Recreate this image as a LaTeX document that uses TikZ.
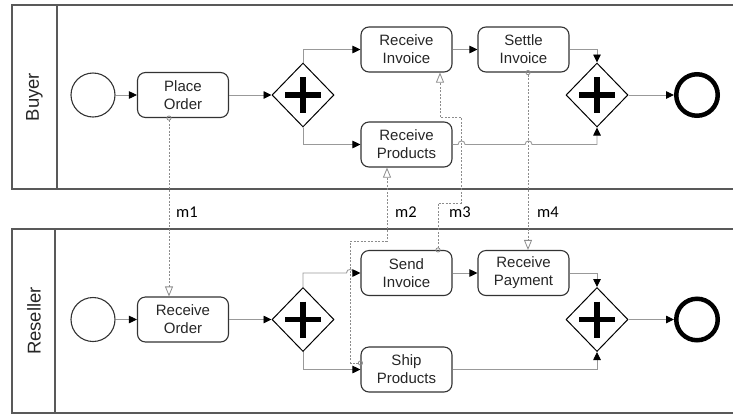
\documentclass[tikz,border=0pt]{standalone}
\usepackage{fontspec}
\setmainfont{Liberation Sans}
\newfontfamily\msgfont{Carlito}
\usetikzlibrary{shapes.geometric,arrows.meta,calc}

\begin{document}
\begin{tikzpicture}[x=1pt,y=-1pt,
  pool/.style={draw=black!65,line width=1.8pt},
  task/.style={draw=black!80,line width=1.1pt,rounded corners=8pt,
    minimum width=91pt,minimum height=45pt,inner sep=0pt,align=center,
    font=\fontsize{15}{18}\selectfont,text=black!85},
  startev/.style={circle,draw=black!80,line width=1.1pt,minimum size=44pt,inner sep=0pt},
  endev/.style={circle,draw=black,line width=4.5pt,minimum size=41.5pt,inner sep=0pt},
  gate/.style={diamond,draw=black,line width=1pt,minimum width=62pt,minimum height=64pt,
    inner sep=0pt,
    path picture={
      \draw[line width=5.5pt,black]
        ($(path picture bounding box.center)+(-18,0)$) -- ++(36,0)
        ($(path picture bounding box.center)+(0,-18)$) -- ++(0,36);}},
  seq/.style={draw=black!40,line width=0.9pt,
    -{Triangle[length=8pt,width=7.5pt,color=black]}},
  msg/.style={draw=black!45,line width=0.8pt,dash pattern=on 2pt off 1.5pt,
    {Circle[open,length=5pt,width=5pt]}-{Triangle[open,length=10pt,width=8pt]}},
  lanelabel/.style={rotate=90,font=\fontsize{18.5}{20}\selectfont,text=black!85},
  msglabel/.style={font=\msgfont\fontsize{16.5}{18}\selectfont}
]
\useasboundingbox (0,0) rectangle (733,416);

% pools and their lane headers
\draw[pool] (12,5) rectangle (745,189);
\draw[pool] (57,5) -- (57,189);
\draw[pool] (12,229) rectangle (745,413);
\draw[pool] (55,229) -- (55,413);
\node[lanelabel] (lbuyer) at (34.5,97) {Buyer};
\node[lanelabel] (lreseller) at (34,321) {Reseller};

% Buyer process
\node[startev] (bs) at (93,95) {};
\node[task] (po) at (183,95) {Place\\Order};
\node[gate] (bg1) at (303,95) {};
\node[task] (ri) at (406.5,49.5) {Receive\\Invoice};
\node[task] (rp) at (406.5,144.5) {Receive\\Products};
\node[task] (si) at (523.5,49.5) {Settle\\Invoice};
\node[gate] (bg2) at (597,95) {};
\node[endev] (be) at (697,95) {};

% Reseller process
\node[startev] (rs) at (93,319.5) {};
\node[task] (ro) at (183,319.5) {Receive\\Order};
\node[gate] (rg1) at (303,319.5) {};
\node[task] (sn) at (406.5,273) {Send\\Invoice};
\node[task] (sp) at (406.5,369.5) {Ship\\Products};
\node[task] (rpay) at (523.5,273) {Receive\\Payment};
\node[gate] (rg2) at (597,319.5) {};
\node[endev] (re) at (697,319.5) {};

% sequence flows, Buyer
\draw[seq] (bs) -- (po);
\draw[seq] (po) -- (bg1);
\draw[seq] (bg1.north) |- (ri);
\draw[seq] (bg1.south) |- (rp);
\draw[seq] (ri) -- (si);
\draw[seq] (si) -| (bg2.north);
\draw[seq] (rp.east) -- ($(rp.east)+(5.5,0)$)
  .. controls +(0,-4.7) and +(0,-4.7) .. ($(rp.east)+(12.5,0)$)
  -- ($(rp.east)+(72.5,0)$)
  .. controls +(0,-4.7) and +(0,-4.7) .. ($(rp.east)+(79.5,0)$)
  -| (bg2.south);
\draw[seq] (bg2) -- (be);

% sequence flows, Reseller
\draw[seq] (rs) -- (ro);
\draw[seq] (ro) -- (rg1);
\draw[seq] (rg1.north) |- ($(sn.west)+(-14,0)$)
  .. controls +(0,-4.7) and +(0,-4.7) .. ($(sn.west)+(-7,0)$) -- (sn.west);
\draw[seq] (rg1.south) |- (sp);
\draw[seq] (sn) -- (rpay);
\draw[seq] (rpay) -| (rg2.north);
\draw[seq] (sp) -| (rg2.south);
\draw[seq] (rg2) -- (re);

% message flows
\draw[msg] ([xshift=-14pt,yshift=2.5pt]po.south) -- ([xshift=-14pt]ro.north);
\draw[msg] ([xshift=2.5pt,yshift=6.5pt]sp.west) -| (350.5,241)
  -| ([xshift=-19.5pt]rp.south);
\draw[msg] ([xshift=31.5pt,yshift=-2.5pt]sn.north) |- (461,203) |- (440,117)
  -- ([xshift=33.5pt]ri.south);
\draw[msg] ([xshift=4.5pt,yshift=2.5pt]si.south) -- ([xshift=4.5pt]rpay.north);

\node[msglabel] (m1) at (187,212) {m1};
\node[msglabel] (m2) at (406,212) {m2};
\node[msglabel] (m3) at (460,212) {m3};
\node[msglabel] (m4) at (548,212) {m4};
\end{tikzpicture}
\end{document}
